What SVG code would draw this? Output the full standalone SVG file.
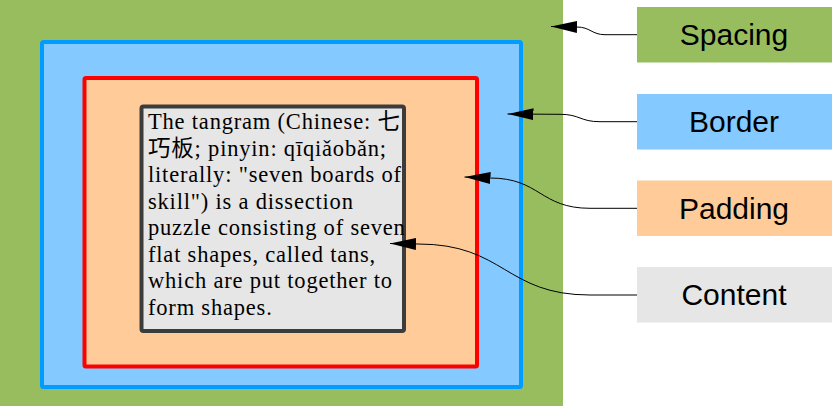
<svg xmlns="http://www.w3.org/2000/svg" width="832" height="406" viewBox="0 0 832 406">
<style>
.body{font-family:"Liberation Serif","Noto Sans CJK SC",serif;font-size:22.5px;letter-spacing:0.8px;fill:#000}
.lbl{font-family:"Liberation Sans",Arial,sans-serif;font-size:30px;fill:#000;text-anchor:middle}
.conn{fill:none;stroke:#000;stroke-width:1;marker-end:url(#arr)}
</style>
<defs>
<marker id="arr" viewBox="0 0 26 12" markerWidth="26" markerHeight="12" refX="26" refY="6" orient="auto" markerUnits="userSpaceOnUse">
<path d="M0,0 L26,6 L0,12 z" fill="#000"/>
</marker>
</defs>
<rect x="0" y="0" width="832" height="406" fill="#fff"/>
<g id="spacing-area">
<rect x="0" y="0" width="563" height="406" fill="#97bd5f"/>
</g>
<g id="border-box">
<rect x="42" y="42" width="479" height="345" rx="1.5" fill="#84c9ff" stroke="#009dff" stroke-width="4"/>
</g>
<g id="padding-box">
<rect x="84.5" y="78" width="392.5" height="288.5" rx="1.5" fill="#ffcc99" stroke="#ff0000" stroke-width="4"/>
</g>
<g id="content-box">
<rect x="141.5" y="106.5" width="262.5" height="224.5" rx="2" fill="#e6e6e6" stroke="#3c3c3c" stroke-width="4"/>
<text class="body">
<tspan x="148" y="129">The tangram (Chinese: 七</tspan>
<tspan x="148" y="155.6">巧板; pinyin: qīqiǎobǎn;</tspan>
<tspan x="148" y="182.2">literally: "seven boards of</tspan>
<tspan x="148" y="208.7">skill") is a dissection</tspan>
<tspan x="148" y="235.3">puzzle consisting of seven</tspan>
<tspan x="148" y="261.9">flat shapes, called tans,</tspan>
<tspan x="148" y="288.4">which are put together to</tspan>
<tspan x="148" y="315">form shapes.</tspan>
</text>
</g>
<g id="label-spacing">
<rect x="637" y="7" width="195" height="55.5" fill="#97bd5f"/>
<text class="lbl" x="734" y="45">Spacing</text>
</g>
<g id="label-border">
<rect x="637" y="94" width="195" height="55.5" fill="#84c9ff"/>
<text class="lbl" x="734" y="132">Border</text>
</g>
<g id="label-padding">
<rect x="637" y="180.5" width="195" height="55.5" fill="#ffcc99"/>
<text class="lbl" x="734" y="218.5">Padding</text>
</g>
<g id="label-content">
<rect x="637" y="267" width="195" height="55.5" fill="#e6e6e6"/>
<text class="lbl" x="734" y="305">Content</text>
</g>
<g id="connectors">
<path class="conn" d="M637,34.7 L605,34.7 C592,34.7 590,27 577,27 L551,26.5"/>
<path class="conn" d="M637,121.7 L600,121.7 C580,121.7 580,114.3 560,114.3 L507.5,114"/>
<path class="conn" d="M637,208.3 L590,208.3 C540,208.3 540,178 490,178 L464.5,177"/>
<path class="conn" d="M637,295 L590,295 C505,295 505,244 418,244 L390,243.5"/>
</g>
</svg>
